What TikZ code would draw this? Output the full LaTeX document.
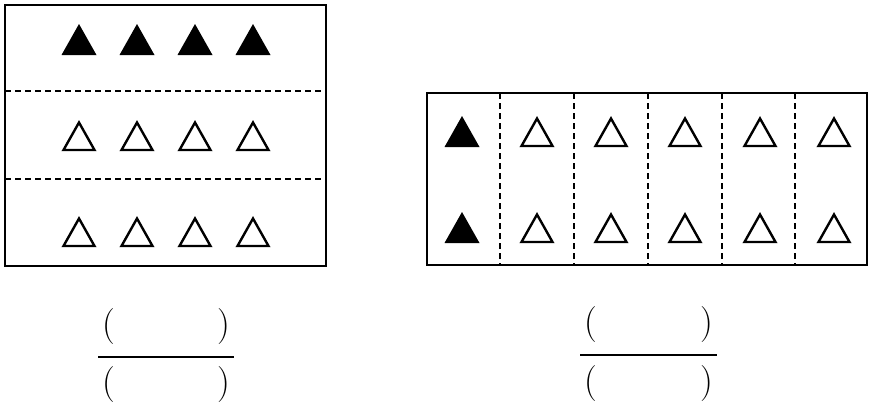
\documentclass[tikz,border=0pt]{standalone}
\usetikzlibrary{positioning}

\begin{document}
\begin{tikzpicture}[
  x=1pt, y=-1pt,
  frame/.style={line width=1.6pt},
  split/.style={dash pattern=on 6pt off 4pt, line width=1.2pt},
  paren/.style={font=\fontsize{36}{42}\selectfont, inner sep=0pt},
  bar/.style={line width=1.4pt},
  open tri/.style={line width=2.4pt, line join=miter},
  pics/solidtri/.style={code={\fill (-17.5,0) -- (0,-31) -- (17.5,0) -- cycle;}},
  pics/opentri/.style={code={\draw[open tri] (-15.5,0) -- (0,-27.5) -- (15.5,0) -- cycle;}}
]
\useasboundingbox (0,0) rectangle (869,405);
% left box: three rows
\draw[frame] (5,5) rectangle (326,266);
\draw[split] (5,91) -- (326,91);
\draw[split] (5,179) -- (326,179);
\foreach \x in {79,137,195,253} {
  \pic at (\x,55) {solidtri};
  \pic at (\x,150) {opentri};
  \pic at (\x,246) {opentri};
}
% right box: six columns
\draw[frame] (427,93) rectangle (867,265);
\foreach \x in {500,574,648,722,795}
  \draw[split] (\x,93) -- (\x,265);
\pic at (462,147) {solidtri};
\pic at (462,243) {solidtri};
\foreach \x in {537,611,685,760,834} {
  \pic at (\x,146) {opentri};
  \pic at (\x,242) {opentri};
}
% fractions
\node[paren] (lnumL) at (109,327) {(};
\node[paren] (lnumR) at (224,327) {)};
\node[paren] (ldenL) at (109,385) {(};
\node[paren] (ldenR) at (224,385) {)};
\coordinate (lbarA) at (98,357);
\coordinate (lbarB) at (234,357);
\draw[bar] (lbarA) -- (lbarB);
\node[paren] (rnumL) at (591,325) {(};
\node[paren] (rnumR) at (707,325) {)};
\node[paren] (rdenL) at (591,384) {(};
\node[paren] (rdenR) at (707,384) {)};
\coordinate (rbarA) at (580,355);
\coordinate (rbarB) at (717,355);
\draw[bar] (rbarA) -- (rbarB);
\end{tikzpicture}
\end{document}
